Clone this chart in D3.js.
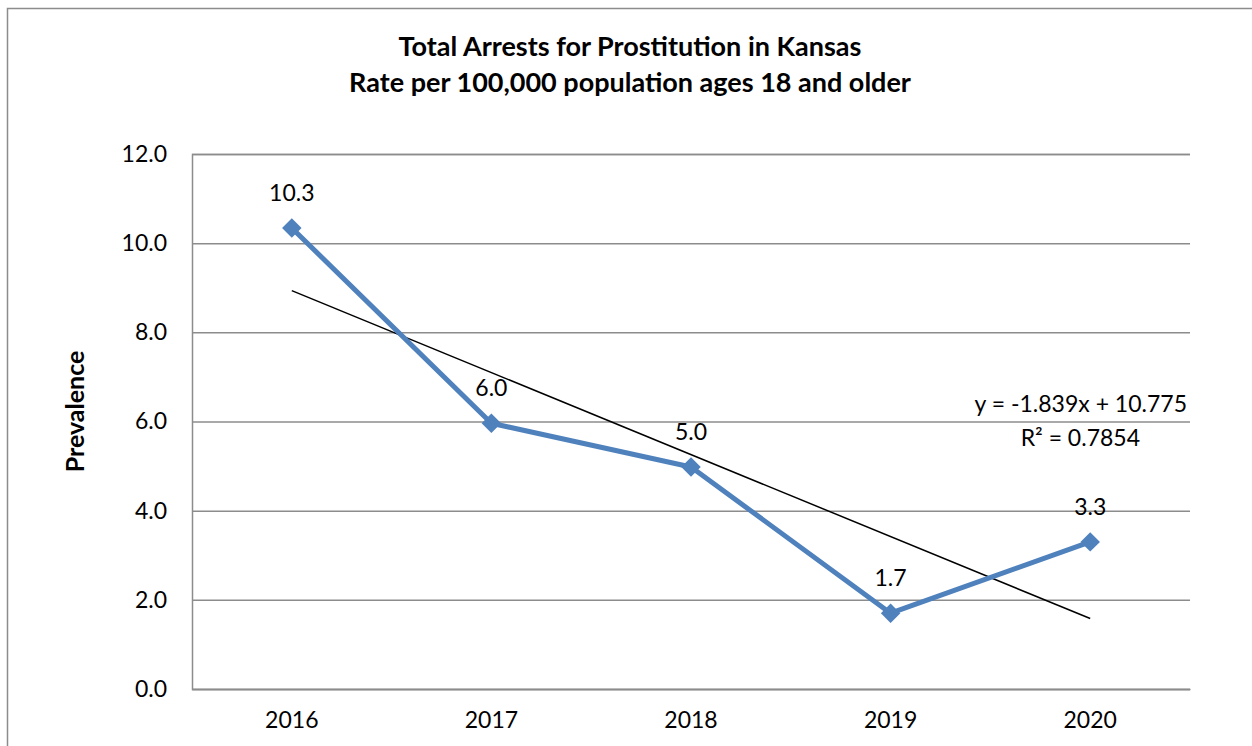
<!DOCTYPE html>
<html>
<head>
<meta charset="utf-8">
<script src="https://cdn.jsdelivr.net/npm/d3@7"></script>
<style>
  body { margin: 0; background: #fff; }
  text { font-family: Lato, "Open Sans", sans-serif; fill: #000; }
</style>
</head>
<body>
<div id="chart"></div>
<script>
// data
var years = ["2016", "2017", "2018", "2019", "2020"];
var rates = [10.34, 5.96, 4.98, 1.70, 3.30];
var rateLabels = ["10.3", "6.0", "5.0", "1.7", "3.3"];
var yTicks = [0, 2, 4, 6, 8, 10, 12];
var trendSlope = -1.839, trendIntercept = 10.775;
var titleLines = ["Total Arrests for Prostitution in Kansas", "Rate per 100,000 population ages 18 and older"];

var width = 1252, height = 746;
var margin = {top: 154, right: 62, bottom: 57, left: 192};
var w = width - margin.left - margin.right;
var h = height - margin.top - margin.bottom;
var fs = 23;

var svg = d3.select("#chart").append("svg")
    .attr("width", width)
    .attr("height", height);

// outer chart frame
svg.append("rect")
    .attr("x", 7.5).attr("y", 8.5)
    .attr("width", 1260).attr("height", 760)
    .attr("fill", "none")
    .attr("stroke", "#8c8c8c")
    .attr("stroke-width", 1.5);

var x = d3.scaleBand().domain(years).range([0, w]);
var y = d3.scaleLinear().domain([0, 12]).range([h, 0]);

var g = svg.append("g").attr("transform", "translate(" + margin.left + "," + margin.top + ")");

//gridlines
var yAxis = d3.axisLeft(y).tickValues(yTicks).tickSize(-w).tickPadding(25)
    .tickFormat(d3.format(".1f"));
g.append("g").call(yAxis)
    .call(function(a) {
        a.select(".domain").attr("stroke", "#8c8c8c").attr("stroke-width", 1.5);
        a.selectAll(".tick line").attr("stroke", "#8c8c8c").attr("stroke-width", 1.5);
        a.selectAll("text").attr("font-size", fs).attr("fill", "#000")
            .style("font-family", "Lato, 'Open Sans', sans-serif");
    });

var xAxis = d3.axisBottom(x).tickSize(0).tickPadding(23);
g.append("g").attr("transform", "translate(0," + h + ")").call(xAxis)
    .call(function(a) {
        a.select(".domain").attr("stroke", "#8c8c8c").attr("stroke-width", 1.5);
        a.selectAll("text").attr("font-size", fs).attr("fill", "#000")
            .style("font-family", "Lato, 'Open Sans', sans-serif");
    });

var cx = function(i) { return x(years[i]) + x.bandwidth() / 2; };

// trendline
var trend = [0, years.length - 1].map(function(i) {
    return [cx(i), y(trendSlope * (i + 1) + trendIntercept)];
});
g.append("path")
    .attr("d", d3.line()(trend))
    .attr("fill", "none")
    .attr("stroke", "#000")
    .attr("stroke-width", 1.5);

// series line
var line = d3.line()
    .x(function(d, i) { return cx(i); })
    .y(function(d) { return y(d); });

g.append("path")
    .datum(rates)
    .attr("d", line)
    .attr("fill", "none")
    .attr("stroke", "#4f81bd")
    .attr("stroke-width", 5)
    .attr("stroke-linejoin", "round");

g.selectAll(".marker")
    .data(rates)
    .enter()
    .append("path")
    .attr("class", "marker")
    .attr("d", d3.symbol().type(d3.symbolSquare).size(190))
    .attr("transform", function(d, i) { return "translate(" + cx(i) + "," + y(d) + ") rotate(45)"; })
    .attr("fill", "#4f81bd");

g.selectAll(".dlabel")
    .data(rates)
    .enter()
    .append("text")
    .attr("class", "dlabel")
    .attr("x", function(d, i) { return cx(i); })
    .attr("y", function(d) { return y(d) - 27; })
    .attr("text-anchor", "middle")
    .attr("font-size", fs)
    .text(function(d, i) { return rateLabels[i]; });

// trend equation
g.append("text")
    .attr("x", w - 3).attr("y", y(6) - 10)
    .attr("text-anchor", "end")
    .attr("font-size", fs)
    .text("y = " + trendSlope + "x + " + trendIntercept);
g.append("text")
    .attr("x", w - 50).attr("y", y(6) + 24)
    .attr("text-anchor", "end")
    .attr("font-size", fs)
    .text("R² = 0.7854");

// axis title
svg.append("text")
    .attr("transform", "translate(84," + (margin.top + h / 2 - 10) + ") rotate(-90)")
    .attr("text-anchor", "middle")
    .attr("font-size", 25)
    .attr("font-weight", "bold")
    .text("Prevalence");

// chart title
svg.selectAll(".title")
    .data(titleLines)
    .enter()
    .append("text")
    .attr("class", "title")
    .attr("x", 630)
    .attr("y", function(d, i) { return 56 + i * 36; })
    .attr("text-anchor", "middle")
    .attr("font-size", 27)
    .attr("font-weight", "bold")
    .text(function(d) { return d; });
</script>
</body>
</html>
